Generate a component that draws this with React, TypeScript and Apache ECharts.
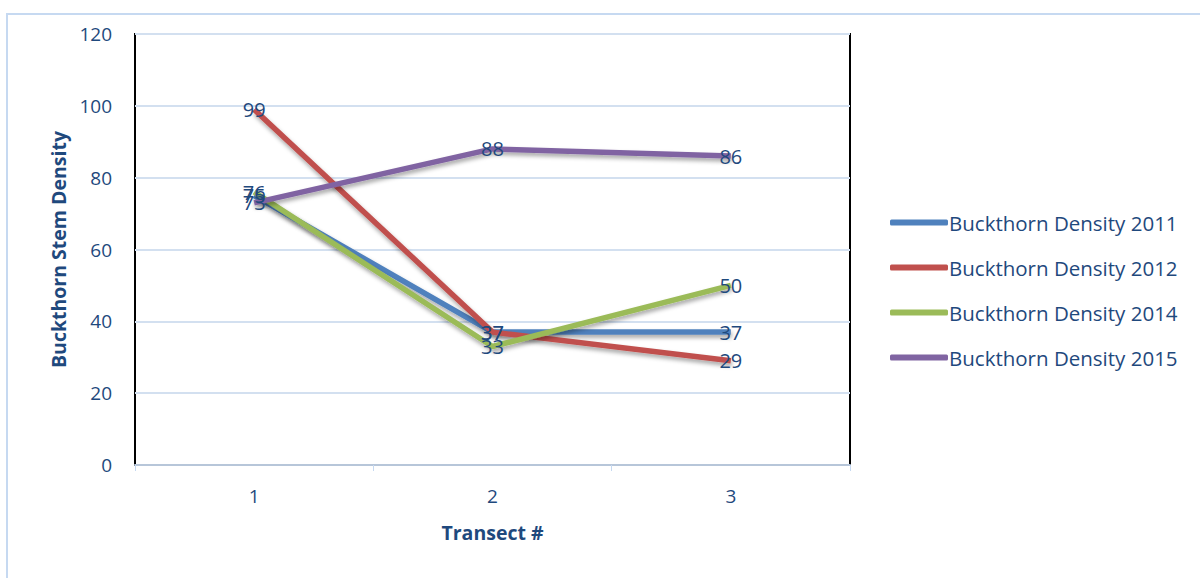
import React, { useEffect, useRef } from "react";
import * as echarts from "echarts";

const categories = ["1", "2", "3"];
const seriesNames = [
  "Buckthorn Density 2011",
  "Buckthorn Density 2012",
  "Buckthorn Density 2014",
  "Buckthorn Density 2015",
];
const density2011 = [75, 37, 37];
const density2012 = [99, 37, 29];
const density2014 = [76, 33, 50];
const density2015 = [73, 88, 86];
const yTicks = [0, 20, 40, 60, 80, 100, 120];

const colors = ["#4F81BD", "#C0504D", "#9BBB59", "#8064A2"];
const textColor = "#1F497D";
const font = "'Open Sans', 'Noto Sans', sans-serif";

export default function App() {
  const ref = useRef<HTMLDivElement>(null);
  useEffect(() => {
    document.body.style.margin = "0";
    const chart = echarts.init(ref.current!, null, { renderer: "svg" });
    const data = [density2011, density2012, density2014, density2015];
    chart.setOption({
      animation: false,
      backgroundColor: "#ffffff",
      textStyle: { fontFamily: font },
      graphic: [
        {
          type: "rect",
          shape: { x: 7, y: 14, width: 1400, height: 800 },
          style: { fill: "none", stroke: "#C6D9F1", lineWidth: 2 },
          silent: true,
        },
      ],
      grid: {
        left: 135,
        top: 34,
        right: 350,
        bottom: 113,
        show: true,
        borderColor: "#000000",
        borderWidth: 2,
        backgroundColor: "transparent",
      },
      legend: {
        orient: "vertical",
        left: 885,
        top: 207,
        itemWidth: 58,
        itemHeight: 6,
        itemGap: 24,
        icon: "roundRect",
        data: seriesNames,
        textStyle: { color: textColor, fontSize: 20.5, fontFamily: font, padding: [0, 0, 0, -4] },
      },
      xAxis: {
        type: "category",
        data: categories,
        boundaryGap: true,
        name: "Transect #",
        nameLocation: "middle",
        nameGap: 57,
        nameTextStyle: { color: textColor, fontSize: 19.5, fontWeight: "bold", fontFamily: font },
        axisLine: { show: true, lineStyle: { color: "#B7C6D9", width: 2 } },
        axisTick: { show: true, length: 6, lineStyle: { color: "#C6D9F1", width: 1 } },
        axisLabel: { color: textColor, fontSize: 19, margin: 21 },
        splitLine: { show: false },
      },
      yAxis: {
        type: "value",
        min: yTicks[0],
        max: yTicks[yTicks.length - 1],
        interval: 20,
        name: "Buckthorn Stem Density",
        nameLocation: "middle",
        nameGap: 66,
        nameTextStyle: { color: textColor, fontSize: 19.5, fontWeight: "bold", fontFamily: font },
        axisLine: { show: false },
        axisTick: { show: false },
        axisLabel: { color: textColor, fontSize: 19, margin: 23 },
        splitLine: { show: true, lineStyle: { color: "#D3E0F0", width: 2 } },
      },
      series: seriesNames.map((name, i) => ({
        name,
        type: "line",
        data: data[i],
        symbol: "circle",
        symbolSize: 0.1,
        showSymbol: true,
        color: colors[i],
        lineStyle: {
          color: colors[i],
          width: 5.5,
          shadowColor: "rgba(0,0,0,0.35)",
          shadowBlur: 4,
          shadowOffsetY: 3,
          shadowOffsetX: 1,
        },
        label: {
          show: true,
          position: "inside",
          color: textColor,
          fontSize: 20,
          fontFamily: font,
        },
        labelLayout: { hideOverlap: false },
      })),
    });
    return () => chart.dispose();
  }, []);
  return <div ref={ref} style={{ width: 1200, height: 578 }} />;
}
